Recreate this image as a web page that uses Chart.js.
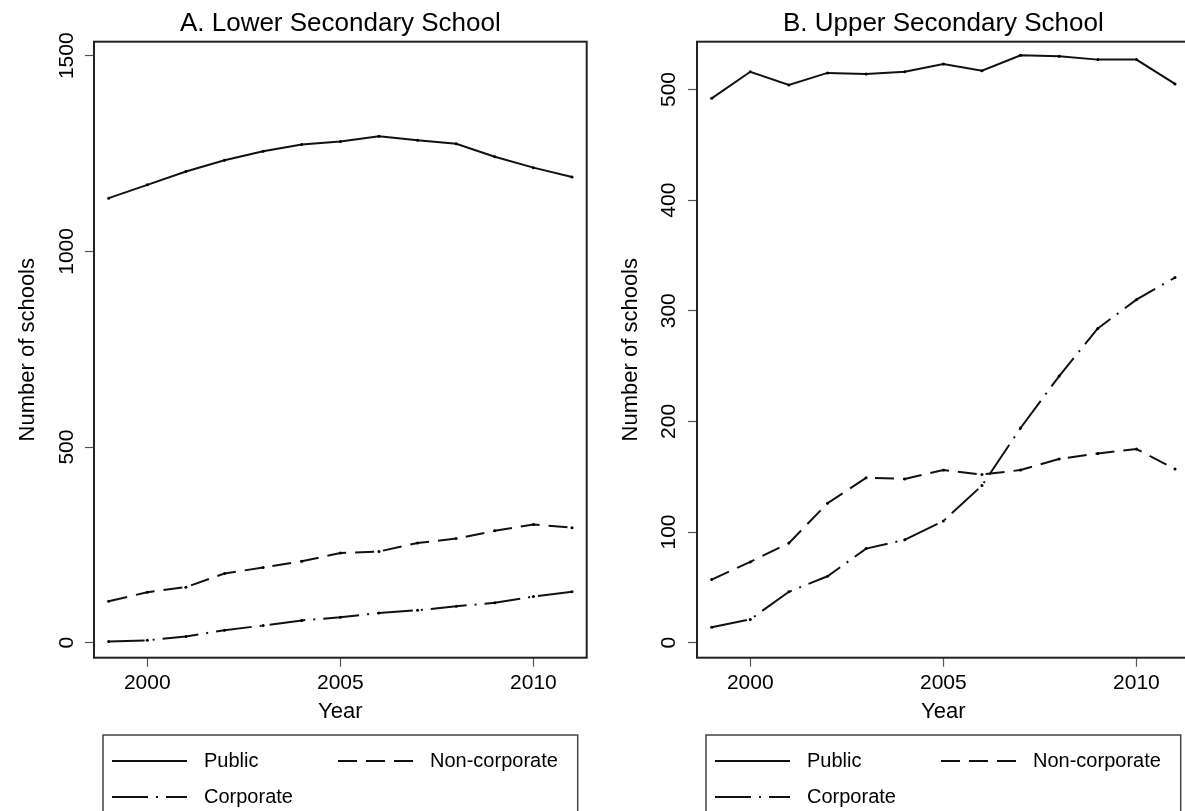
<!DOCTYPE html>
<html><head><meta charset="utf-8">
<script src="https://cdn.jsdelivr.net/npm/chart.js@4/dist/chart.umd.min.js"></script>
<style>
html,body{margin:0;padding:0;background:#fff;width:1185px;height:811px;overflow:hidden;position:relative}
canvas{position:absolute;top:0}
#cA{left:0}
#cB{left:603px}
</style></head><body>
<canvas id="cA" width="595" height="811"></canvas>
<canvas id="cB" width="595" height="811"></canvas>
<script>
// ---- data ----
const years = [1999, 2000, 2001, 2002, 2003, 2004, 2005, 2006, 2007, 2008, 2009, 2010, 2011];
const lowerPublic  = [1136, 1170, 1204, 1233, 1256, 1273, 1281, 1294, 1284, 1275, 1242, 1214, 1190];
const lowerNonCorp = [106, 129, 142, 177, 192, 208, 229, 233, 255, 266, 286, 302, 294];
const lowerCorp    = [3, 6, 16, 32, 44, 57, 65, 76, 83, 93, 102, 118, 130];
const upperPublic  = [492, 516, 504, 515, 514, 516, 523, 517, 531, 530, 527, 527, 505];
const upperNonCorp = [57, 73, 90, 126, 149, 148, 156, 152, 156, 166, 171, 175, 157];
const upperCorp    = [14, 21, 46, 60, 85, 93, 110, 142, 194, 241, 284, 310, 330];
const seriesLabels = ['Public', 'Non-corporate', 'Corporate'];
const xTicks = [2000, 2005, 2010];
const lowerTicks = [0, 500, 1000, 1500];
const upperTicks = [0, 100, 200, 300, 400, 500];
const panelTitles = ['A. Lower Secondary School', 'B. Upper Secondary School'];
const xTitle = 'Year';
const yTitle = 'Number of schools';

const FONT = '"Liberation Sans", Arial, Helvetica, sans-serif';
const DASHES = [[], [19, 9], [36, 8, 2, 8]];

const framePlugin = {
  id: 'frame',
  afterDraw(chart) {
    const {ctx, chartArea: a} = chart;
    ctx.save();
    ctx.strokeStyle = '#222';
    ctx.lineWidth = 2;
    ctx.setLineDash([]);
    ctx.strokeRect(a.left, a.top, a.right - a.left, a.bottom - a.top);
    ctx.restore();
  }
};

const legendPlugin = {
  id: 'stataLegend',
  afterDraw(chart) {
    const {ctx, chartArea: a} = chart;
    ctx.save();
    ctx.strokeStyle = '#444';
    ctx.lineWidth = 1.5;
    ctx.setLineDash([]);
    ctx.strokeRect(a.left + 9, 735, a.right - a.left - 18, 120);
    const slots = [[18, 761], [244, 761], [18, 797]];
    chart.data.datasets.forEach((ds, i) => {
      const [dx, y] = slots[i];
      const x0 = a.left + dx;
      ctx.strokeStyle = ds.borderColor;
      ctx.lineWidth = ds.borderWidth;
      ctx.setLineDash(ds.borderDash);
      ctx.beginPath();
      ctx.moveTo(x0, y);
      ctx.lineTo(x0 + 75, y);
      ctx.stroke();
      ctx.setLineDash([]);
      ctx.fillStyle = '#000';
      ctx.font = '20px ' + FONT;
      ctx.textBaseline = 'middle';
      ctx.textAlign = 'left';
      ctx.fillText(ds.label, x0 + 92, y);
    });
    ctx.restore();
  }
};

function build(id, title, series, yTicks, yMin, yMax, yTickPad) {
  const datasets = series.map((vals, i) => ({
    label: seriesLabels[i],
    data: years.map((yr, j) => ({x: yr, y: vals[j]})),
    borderColor: '#111',
    borderWidth: 2,
    borderDash: DASHES[i],
    pointRadius: 1.5,
    pointBackgroundColor: '#000',
    pointBorderWidth: 0,
    tension: 0,
    fill: false
  }));
  return new Chart(document.getElementById(id), {
    type: 'line',
    data: {datasets},
    options: {
      responsive: false,
      animation: false,
      devicePixelRatio: 1,
      layout: {padding: {left: 0, right: 8.3, top: 0, bottom: 0}},
      plugins: {
        legend: {display: false},
        tooltip: {enabled: false},
        title: {
          display: true, text: title, fullSize: false, color: '#000',
          font: {family: FONT, size: 26, weight: 'normal', lineHeight: 1.2},
          padding: {top: 8.4, bottom: 2.1}
        }
      },
      scales: {
        x: {
          type: 'linear', min: 1998.62, max: 2011.38,
          afterBuildTicks: s => { s.ticks = xTicks.map(v => ({value: v})); },
          afterFit: s => { s.height = 153.3; },
          grid: {drawOnChartArea: false, drawTicks: true, tickLength: 9, tickColor: '#555', tickWidth: 1.2},
          border: {display: false},
          ticks: {color: '#000', font: {family: FONT, size: 21}, padding: 3.7, maxRotation: 0, autoSkip: false, callback: v => String(v)},
          title: {display: true, text: xTitle, color: '#000', font: {family: FONT, size: 22}, padding: {top: 0, bottom: 85.8}}
        },
        y: {
          type: 'linear', min: yMin, max: yMax,
          afterBuildTicks: s => { s.ticks = yTicks.map(v => ({value: v})); },
          afterFit: s => { s.width = 94; },
          grid: {drawOnChartArea: false, drawTicks: true, tickLength: 9, tickColor: '#555', tickWidth: 1.2},
          border: {display: false},
          ticks: {color: '#000', font: {family: FONT, size: 21}, padding: yTickPad, minRotation: 90, maxRotation: 90, crossAlign: 'center', autoSkip: false, callback: v => String(v)},
          title: {display: true, text: yTitle, color: '#000', font: {family: FONT, size: 22}, padding: {top: 14.8, bottom: 0}}
        }
      }
    },
    plugins: [framePlugin, legendPlugin]
  });
}

build('cA', panelTitles[0], [lowerPublic, lowerNonCorp, lowerCorp], lowerTicks, -38.3, 1535.8, -5.9);
build('cB', panelTitles[1], [upperPublic, upperNonCorp, upperCorp], upperTicks, -13.6, 543.2, 1.3);
</script>
</body></html>
